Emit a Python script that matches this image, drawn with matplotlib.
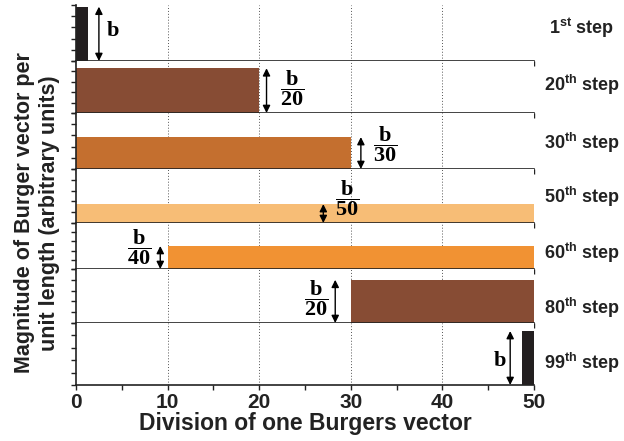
import matplotlib
matplotlib.use("Agg")
import matplotlib.pyplot as plt
from matplotlib.ticker import MultipleLocator, NullFormatter
import numpy as np

plt.rcParams["font.family"] = ["Liberation Sans", "DejaVu Sans"]
plt.rcParams["font.weight"] = "bold"
plt.rcParams["mathtext.fontset"] = "custom"
plt.rcParams["mathtext.bf"] = "Liberation Serif:bold"
plt.rcParams["mathtext.rm"] = "Liberation Serif:bold"
plt.rcParams["mathtext.sf"] = "Liberation Sans:bold"

# one row per simulation step
steps = [1, 20, 30, 50, 60, 80, 99]
step_suffix = ["st", "th", "th", "th", "th", "th", "th"]
bar_start = [0, 0, 0, 0, 10, 30, 48.7]
bar_end = [1.3, 20, 30, 50, 50, 50, 50]
bar_height = [0.97, 0.86, 0.57, 0.35, 0.5, 0.8, 0.87]
divisor = [None, 20, 30, 50, 40, 20, None]
bar_colors = ["#231f20", "#874c34", "#c46f2f", "#f7bd76", "#f19233", "#874c34", "#231f20"]

# annotation placement (arrow x, label x, label y in panel fraction)
arrow_x = [2.5, 20.8, 31.1, 27.0, 9.2, 28.3, 47.4]
label_x = [4.0, 23.6, 33.8, 29.6, 6.9, 26.2, 46.3]
label_y = [0.55, 0.48, 0.45, 0.46, 0.48, 0.46, 0.40]

panel_ratios = [56, 52, 56, 54, 46, 54, 62]
step_label_px = [28, 85, 143, 197, 253, 308, 363]

W, H = 624, 441
fig = plt.figure(figsize=(W / 100, H / 100), dpi=100)
gs = fig.add_gridspec(len(steps), 1, height_ratios=panel_ratios, hspace=0,
                      left=76 / W, right=534 / W, bottom=1 - 385 / H, top=1 - 5 / H)

axes = []
for i in range(len(steps)):
    ax = fig.add_subplot(gs[i, 0])
    axes.append(ax)
    ax.set_xlim(0, 50)
    ax.set_ylim(0, 1)
    for s in ("top", "right"):
        ax.spines[s].set_visible(False)
    for s in ("left", "bottom"):
        ax.spines[s].set_linewidth(1.2)
        ax.spines[s].set_color("#222222")
    ax.vlines([10, 20, 30, 40], 0, 1, transform=ax.get_xaxis_transform(),
              colors="#555555", linestyles=(0, (1, 2)), linewidth=0.7, zorder=0)
    ax.bar(bar_start[i], bar_height[i], width=bar_end[i] - bar_start[i],
           align="edge", color=bar_colors[i], zorder=2, linewidth=0)
    ax.annotate("", xy=(arrow_x[i], bar_height[i]), xytext=(arrow_x[i], 0),
                arrowprops=dict(arrowstyle="<|-|>", color="black", lw=1.0,
                                mutation_scale=11, shrinkA=0, shrinkB=0), zorder=3)
    if divisor[i] is None:
        txt = r"$\mathbf{b}$"
    else:
        txt = r"$\dfrac{\mathbf{b}}{\mathbf{%d}}$" % divisor[i]
    ax.text(label_x[i], label_y[i], txt, ha="center", va="center",
            fontsize=16, zorder=4, transform=ax.get_xaxis_transform())

    ax.xaxis.set_major_locator(MultipleLocator(10))
    ax.xaxis.set_minor_locator(MultipleLocator(5))
    ax.yaxis.set_major_locator(MultipleLocator(0.2))
    ax.yaxis.set_major_formatter(NullFormatter())
    ax.tick_params(axis="x", which="both", direction="out", length=3.5, width=1.0,
                   color="#222222")
    ax.tick_params(axis="y", which="both", direction="out", length=3.5, width=1.0,
                   color="#222222")
    if i < len(steps) - 1:
        ax.tick_params(axis="x", labelbottom=False)
    else:
        ax.tick_params(axis="x", labelsize=15, pad=2, labelcolor="#222222")
        for lab in ax.get_xticklabels():
            lab.set_fontweight("bold")
        ax.set_xlabel("Division of one Burgers vector", fontsize=16.5,
                      fontweight="bold", labelpad=0, color="#222222")

    fig.text(582 / W, 1 - step_label_px[i] / H,
             r"%d$^{\mathsf{%s}}$ step" % (steps[i], step_suffix[i]),
             ha="center", va="center", fontsize=13, fontweight="bold", color="#222222")

fig.text(37 / W, 1 - 213 / H,
         "Magnitude of Burger vector per\nunit length (arbitrary units)",
         rotation=90, ha="center", va="center", multialignment="center",
         fontsize=15.5, fontweight="bold", color="#222222", linespacing=1.25)

fig.savefig("out.png", dpi=100)
